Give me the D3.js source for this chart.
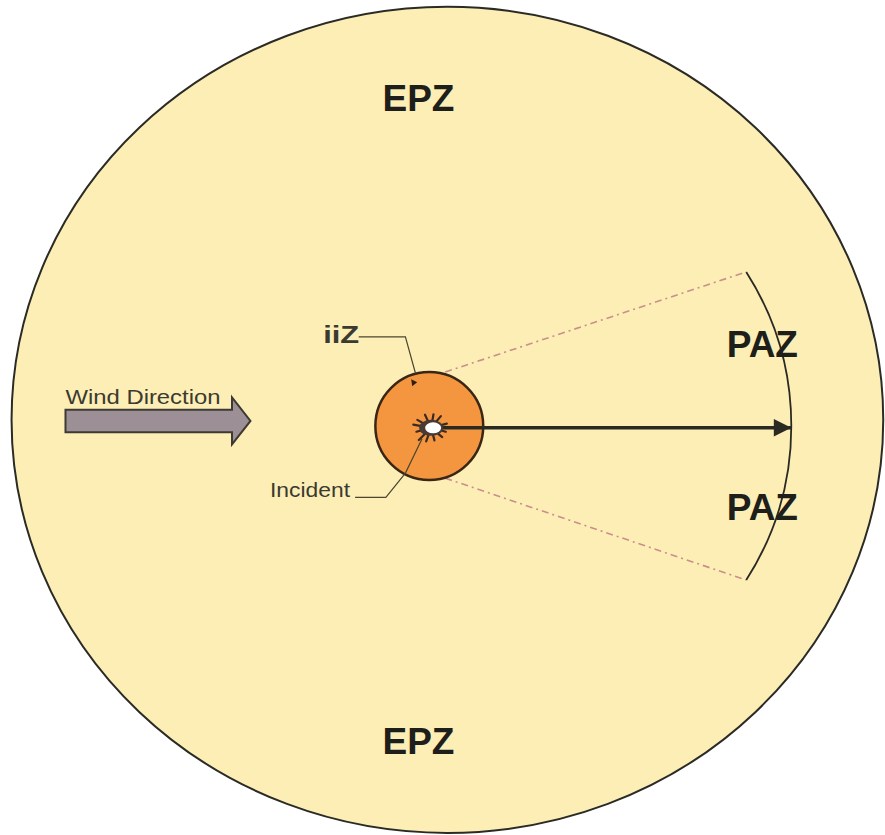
<!DOCTYPE html>
<html lang="en">
<head>
<meta charset="UTF-8">
<script src="https://cdnjs.cloudflare.com/ajax/libs/d3/7.8.5/d3.min.js"></script>
<style>
body{
  margin: 0;
  background-color: #ffffff;
}
text{
  font-family: "Liberation Sans", Arial, sans-serif;
  fill: #1e1e1a;
}
</style>
</head>
<body>
<div id="main-container"></div>
<script type="text/javascript">
/* global d3 */

// diagram units: incident at (0,0), y positive = up
const epzZone = [0.5, 0.17, 12.04, 11.41];      // cx, cy, rx, ry
const iizRadius = [1.49];
const pazArc = [2.1, 7.9, 32.6];                // arc centre x, radius, half angle (deg)
const windArrow = [-10.05, -5.45, -4.94, 0.14, 0.31, 0.65]; // x0, neck, tip, y, half body, half head
const zoneLabels = ["EPZ", "EPZ", "PAZ", "PAZ"];
const zoneLabelX = [-0.3, -0.3, 9.2, 9.2];
const zoneLabelY = [8.7, -9.05, 1.9, -2.6];
const smallLabels = ["iiZ", "Incident", "Wind Direction"];
const smallLabelX = [-2.93, -4.4, -10.05];
const smallLabelY = [2.3, -1.95, 0.62];
const iizLeader = [[-1.95, 2.46], [-0.66, 2.46], [-0.38, 1.45]];
const incidentLeader = [[-2.05, -1.97], [-1.2, -1.97], [-0.66, -1.3], [-0.2, -0.35]];
const spikeAngles = [15, 50, 80, 115, 150, 170, 195, 225, 250, 285, 320, 345];
const spikeLengths = [0.45, 0.42, 0.38, 0.4, 0.44, 0.5, 0.42, 0.48, 0.4, 0.36, 0.4, 0.42];

const w = 885;
const h = 835;

const xScale = d3.scaleLinear().domain([-11.5, 12.5]).range([13, 13 + 24 * 36.2]);
const yScale = d3.scaleLinear().domain([11.5, -11.5]).range([426 - 416.3, 426 + 416.3]);
const k = 36.2;

const svg = d3.select('#main-container').append('svg').attr('width', w).attr('height', h);

// EPZ
svg.append('ellipse')
  .attr('cx', xScale(epzZone[0])).attr('cy', yScale(epzZone[1]))
  .attr('rx', epzZone[2] * k).attr('ry', epzZone[3] * k)
  .attr('fill', '#fdeeb6').attr('stroke', '#2b2b26').attr('stroke-width', 2);

// PAZ sector edges (dash-dot)
const rad = pazArc[2] * Math.PI / 180;
const endX = pazArc[0] + pazArc[1] * Math.cos(rad);
const endY = pazArc[1] * Math.sin(rad);
[[0.44, 1.49, endX, endY], [0.44, -1.44, endX, -endY]].forEach(s => {
  svg.append('line')
    .attr('x1', xScale(s[0])).attr('y1', yScale(s[1]))
    .attr('x2', xScale(s[2])).attr('y2', yScale(s[3]))
    .attr('stroke', '#c98f8a').attr('stroke-width', 1.6)
    .attr('stroke-dasharray', '7,4,2,4');
});

// PAZ arc
const arcPath = d3.path();
arcPath.arc(xScale(pazArc[0]), yScale(0), pazArc[1] * k, -rad, rad);
svg.append('path').attr('d', arcPath.toString())
  .attr('fill', 'none').attr('stroke', '#2a2a24').attr('stroke-width', 1.8);

// IIZ circle
svg.append('circle')
  .attr('cx', xScale(0)).attr('cy', yScale(0)).attr('r', iizRadius[0] * k)
  .attr('fill', '#f4953f').attr('stroke', '#3a2616').attr('stroke-width', 2.5);

// main arrow
svg.append('defs').append('marker')
  .attr('id', 'head').attr('viewBox', '0 0 10 10').attr('refX', 10).attr('refY', 5)
  .attr('markerWidth', 6).attr('markerHeight', 5).attr('orient', 'auto')
  .append('path').attr('d', 'M0,0L10,5L0,10Z').attr('fill', '#2a2a22');
svg.append('line')
  .attr('x1', xScale(0.2)).attr('y1', yScale(-0.05))
  .attr('x2', xScale(pazArc[0] + pazArc[1])).attr('y2', yScale(-0.05))
  .attr('stroke', '#2a2a22').attr('stroke-width', 3.5).attr('marker-end', 'url(#head)');

// incident burst
const burst = svg.append('g').attr('transform', `translate(${xScale(0.05)},${yScale(-0.05)})`);
spikeAngles.forEach((a, i) => {
  const r = a * Math.PI / 180;
  burst.append('line')
    .attr('x1', 0).attr('y1', 0)
    .attr('x2', Math.cos(r) * spikeLengths[i] * k).attr('y2', -Math.sin(r) * spikeLengths[i] * k)
    .attr('stroke', '#3b2a22').attr('stroke-width', 2.2).attr('stroke-linecap', 'round');
});
burst.append('ellipse').attr('rx', 12).attr('ry', 8).attr('fill', '#4a3a34');
burst.append('ellipse').attr('cx', 2).attr('rx', 8).attr('ry', 5.5).attr('fill', '#ffffff');

// leaders
const line = d3.line().x(d => xScale(d[0])).y(d => yScale(d[1]));
svg.append('path').attr('d', line(iizLeader)).attr('fill', 'none')
  .attr('stroke', '#4a4630').attr('stroke-width', 1.2);
svg.append('path')
  .attr('d', `M${xScale(-0.5)},${yScale(1.15) - 5}l6,3l-5,4z`)
  .attr('fill', '#2e2010');
svg.append('path').attr('d', line(incidentLeader)).attr('fill', 'none')
  .attr('stroke', '#4a4630').attr('stroke-width', 1.2);

// wind arrow
const wa = windArrow;
const windPts = [[wa[0], wa[3] + wa[4]], [wa[1], wa[3] + wa[4]], [wa[1], wa[3] + wa[5]], [wa[2], wa[3]],
  [wa[1], wa[3] - wa[5]], [wa[1], wa[3] - wa[4]], [wa[0], wa[3] - wa[4]]];
svg.append('path').attr('d', line(windPts) + 'Z')
  .attr('fill', '#9c9096').attr('stroke', '#3d3a34').attr('stroke-width', 2);

// labels
svg.selectAll('.zone').data(zoneLabels).enter().append('text')
  .attr('class', 'zone')
  .attr('x', (d, i) => xScale(zoneLabelX[i])).attr('y', (d, i) => yScale(zoneLabelY[i]))
  .style('text-anchor', 'middle').style('font-weight', 'bold').style('font-size', '37px')
  .text(d => d);

const smallSizes = [24, 20, 20];
const smallWidths = [36, 80, 155];
svg.selectAll('.small').data(smallLabels).enter().append('text')
  .attr('class', 'small')
  .attr('x', (d, i) => xScale(smallLabelX[i])).attr('y', (d, i) => yScale(smallLabelY[i]))
  .attr('textLength', (d, i) => smallWidths[i]).attr('lengthAdjust', 'spacingAndGlyphs')
  .style('font-size', (d, i) => smallSizes[i] + 'px')
  .style('font-weight', (d, i) => i === 0 ? 'bold' : 'normal')
  .style('fill', '#3a3a30')
  .text(d => d);
</script>
</body>
</html>
